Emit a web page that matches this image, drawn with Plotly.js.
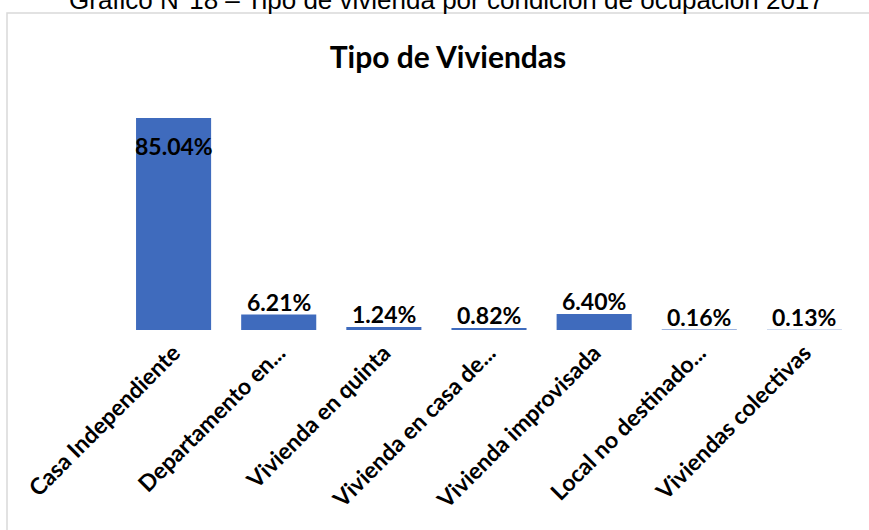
<!DOCTYPE html>
<html>
<head>
<meta charset="utf-8">
<script src="https://cdn.plot.ly/plotly-3.0.1.min.js"></script>
<style>html,body{margin:0;padding:0;background:#fff;}#chart{width:869px;height:530px;}</style>
</head>
<body>
<div id="chart"></div>
<script>
const categories = ["Casa Independiente", "Departamento en...", "Vivienda en quinta", "Vivienda en casa de...", "Vivienda improvisada", "Local no destinado...", "Viviendas colectivas"];
const values = [85.04, 6.21, 1.24, 0.82, 6.40, 0.16, 0.13];
const valueLabels = ["85.04%", "6.21%", "1.24%", "0.82%", "6.40%", "0.16%", "0.13%"];
const chartTitle = "Tipo de Viviendas";
const pageCaption = "Gráfico N°18 – Tipo de vivienda por condición de ocupación 2017";

const W = 869, H = 530;
const mL = 121, mR = 12, mT = 106, mB = 200;
const pw = W - mL - mR, ph = H - mT - mB;
const px2x = p => (p - mL) / pw;
const py2y = p => (H - mB - p) / ph;

const labelFont = {family: "Lato, 'Open Sans', sans-serif", size: 23, color: "#000", weight: 700};

const annotations = values.map((v, i) => ({
  x: categories[i], y: v, xref: "x", yref: "y",
  text: "<b>" + valueLabels[i] + "</b>",
  showarrow: false,
  yanchor: v > 50 ? "top" : "bottom",
  yshift: v > 50 ? -12 : -3,
  font: labelFont
}));
annotations.push({
  x: px2x(446), y: py2y(17), xref: "paper", yref: "paper",
  text: pageCaption, showarrow: false, yanchor: "bottom", xanchor: "center",
  font: {family: "'Liberation Sans', Arial, sans-serif", size: 26, color: "#000"}
});

const data = [{
  type: "bar",
  x: categories,
  y: values,
  marker: {color: "#3f6bbd", line: {width: 0}},
  hoverinfo: "skip"
}];

const layout = {
  width: W, height: H,
  margin: {l: mL, r: mR, t: mT, b: mB, pad: 0},
  paper_bgcolor: "#ffffff",
  plot_bgcolor: "#ffffff",
  showlegend: false,
  bargap: 0.286,
  title: {
    text: "<b>" + chartTitle + "</b>",
    x: 448 / W, xanchor: "center", xref: "container",
    y: 1 - 57 / H, yanchor: "middle", yref: "container",
    font: {family: "Lato, 'Open Sans', sans-serif", size: 30, color: "#000"}
  },
  xaxis: {
    type: "category",
    range: [-0.5, 6.5],
    showgrid: false, zeroline: false, showline: false,
    ticks: "",
    tickangle: -45,
    ticklabelstandoff: 4,
    tickfont: {family: "Lato, 'Open Sans', sans-serif", size: 23, color: "#000", weight: 700},
    fixedrange: true
  },
  yaxis: {
    range: [0, ph / (212 / 85.04)],
    showgrid: false, zeroline: false, showline: false,
    showticklabels: false, ticks: "",
    fixedrange: true
  },
  annotations: annotations,
  shapes: [{
    type: "rect", xref: "paper", yref: "paper",
    x0: px2x(7), x1: px2x(890), y0: py2y(560), y1: py2y(13),
    line: {color: "#d9d9d9", width: 1.5},
    fillcolor: "rgba(0,0,0,0)",
    layer: "below"
  }]
};

Plotly.newPlot("chart", data, layout, {staticPlot: true, displayModeBar: false});
</script>
</body>
</html>
